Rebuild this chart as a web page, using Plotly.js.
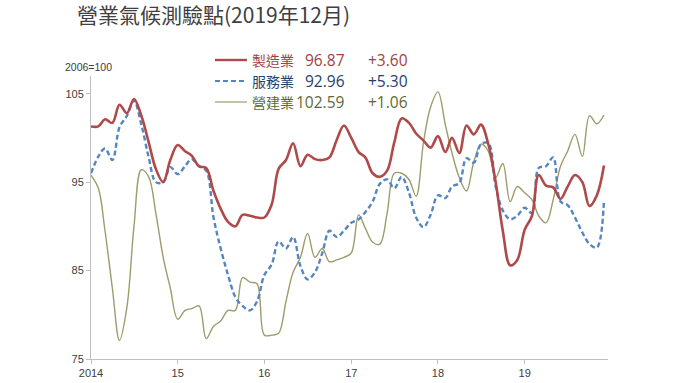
<!DOCTYPE html>
<html><head><meta charset="utf-8">
<script src="https://cdn.plot.ly/plotly-3.0.1.min.js"></script>
<style>html,body{margin:0;padding:0;background:#fff}#chart{width:680px;height:383px}</style>
</head><body><div id="chart"></div>
<script>
// months Jan 2014 .. Dec 2019
const months = [];
for (let y = 2014; y <= 2019; y++) for (let m = 1; m <= 12; m++) months.push(y + '-' + String(m).padStart(2, '0') + '-01');

const manufacturing = [
 101.3,101.3,102.1,101.7,103.75,102.8,104.4,102.5,99.5,96.5,95.0,97.5,
 99.2,98.5,98.0,96.8,96.6,94.0,92.0,90.5,90.0,91.3,91.2,91.0,
 91.0,92.5,96.5,97.5,99.4,96.8,98.1,97.6,97.5,97.8,99.8,101.4,
 100.0,98.4,97.8,96.0,95.6,96.3,99.5,102.2,101.7,100.5,99.7,98.9,
 100.2,98.4,100.0,98.3,101.4,100.4,101.5,99.3,95.0,89.5,85.6,86.2,
 89.6,91.2,95.8,94.6,94.4,93.1,94.5,95.8,95.0,92.3,93.5,96.87
];
const services = [
 96.0,97.9,98.8,97.5,101.2,102.5,104.2,101.5,97.8,95.0,95.0,96.7,
 95.9,96.8,97.6,96.8,96.3,91.0,87.5,84.5,82.0,81.0,80.5,81.5,
 84.5,85.7,88.3,87.5,88.8,85.5,84.0,84.8,87.0,89.5,88.8,89.5,
 90.4,90.8,91.6,92.8,94.8,95.3,94.3,95.6,93.8,91.0,89.9,91.3,
 93.5,93.2,94.5,94.9,97.7,97.2,99.3,99.4,94.5,91.8,90.8,91.2,
 92.1,91.5,96.6,96.8,97.8,92.8,92.4,91.0,89.3,88.0,87.6,92.96
];
const construction = [
 95.8,94.3,89.5,83.0,77.1,80.8,90.0,96.4,95.6,91.5,86.5,83.0,
 79.5,80.5,80.7,81.0,77.3,78.7,79.3,80.5,80.5,84.2,83.7,83.5,
 77.7,77.7,77.9,81.5,84.8,86.5,89.2,86.5,87.5,86.0,86.2,86.5,
 87.0,91.3,89.8,88.2,88.0,91.5,96.0,96.0,95.3,93.4,99.5,103.5,
 105.2,101.5,98.3,95.5,94.0,97.3,99.3,98.5,95.5,97.1,92.8,94.5,
 93.8,93.0,91.2,90.4,93.0,96.8,98.5,100.4,97.9,102.5,101.6,102.59
];
const seriesNames = ['製造業', '服務業', '營建業'];
const latestValues = ['96.87', '92.96', '102.59'];
const changes = ['+3.60', '+5.30', '+1.06'];
const tickYears = ['2014-01-01','2015-01-01','2016-01-01','2017-01-01','2018-01-01','2019-01-01'];
const tickLabels = ['2014', '15', '16', '17', '18', '19'];
const yTicks = [75, 85, 95, 105];

const W = 680, H = 383;
const M = {l: 91, r: 72, t: 76, b: 24};
const px = x => (x - M.l) / (W - M.l - M.r);
const py = y => (H - M.b - y) / (H - M.t - M.b);

const lineColors = ['#b04a4a', '#5586c0', '#9c9c6c'];
const textColors = ['#a5403f', '#24416e', '#5e6a34'];
const dashes = ['solid', '5px,3px', 'solid'];
const widths = [2.6, 2.4, 1.4];

const traces = [0, 1, 2].map(i => ({
  x: months, y: [manufacturing, services, construction][i], name: seriesNames[i],
  type: 'scatter', mode: 'lines',
  line: {color: lineColors[i], width: widths[i], dash: dashes[i], shape: 'spline', smoothing: 1}
}));
// draw order: construction behind
const ordered = [traces[2], traces[1], traces[0]];

const rowsY = [60, 81, 102];
const annotations = [
  {text: '2006=100', xref: 'paper', yref: 'paper', x: px(63), y: py(67), xanchor: 'left', yanchor: 'middle',
   showarrow: false, font: {size: 10.5, color: '#404040', family: 'Liberation Sans, Arial, sans-serif'}}
];
for (let i = 0; i < 3; i++) {
  annotations.push({text: seriesNames[i], xref: 'paper', yref: 'paper', x: px(250), y: py(rowsY[i]), xanchor: 'left', yanchor: 'middle',
    showarrow: false, font: {size: 14, color: textColors[i], family: 'Noto Sans CJK TC, sans-serif'}});
  annotations.push({text: latestValues[i], xref: 'paper', yref: 'paper', x: px(347), y: py(rowsY[i]), xanchor: 'right', yanchor: 'middle',
    showarrow: false, font: {size: 15.5, color: textColors[i], family: 'Open Sans, sans-serif'}});
  annotations.push({text: changes[i], xref: 'paper', yref: 'paper', x: px(410), y: py(rowsY[i]), xanchor: 'right', yanchor: 'middle',
    showarrow: false, font: {size: 15.5, color: textColors[i], family: 'Open Sans, sans-serif'}});
}
const shapes = [];
for (let i = 0; i < 3; i++) {
  shapes.push({type: 'line', xref: 'paper', yref: 'paper', x0: px(215), x1: px(247), y0: py(rowsY[i]), y1: py(rowsY[i]),
    line: {color: lineColors[i], width: widths[i] - 0.2, dash: dashes[i]}});
}

const layout = {
  width: W, height: H,
  margin: M,
  paper_bgcolor: '#fff', plot_bgcolor: '#fff',
  showlegend: false,
  title: {text: '營業氣候測驗點(2019年12月)', x: 77 / W, xref: 'container', xanchor: 'left',
          y: 1 - 16 / H, yref: 'container', yanchor: 'middle',
          font: {size: 21, color: '#404040', family: 'Noto Sans CJK TC, sans-serif'}},
  xaxis: {type: 'date', range: ['2014-01-01', '2019-12-18'], tickvals: tickYears, ticktext: tickLabels,
          showgrid: false, zeroline: false, showline: true, linecolor: '#bfbfbf', linewidth: 1,
          ticks: 'outside', ticklen: 4, tickcolor: '#bfbfbf',
          tickfont: {size: 11, color: '#404040', family: 'Liberation Sans, Arial, sans-serif'}},
  yaxis: {range: [75, 107], tickvals: yTicks, ticktext: yTicks.map(String),
          showgrid: false, zeroline: false, showline: true, linecolor: '#bfbfbf', linewidth: 1,
          ticks: 'outside', ticklen: 4, tickcolor: '#bfbfbf',
          tickfont: {size: 11, color: '#404040', family: 'Liberation Sans, Arial, sans-serif'}},
  annotations: annotations,
  shapes: shapes
};
Plotly.newPlot('chart', ordered, layout, {displayModeBar: false, staticPlot: true});
</script></body></html>
